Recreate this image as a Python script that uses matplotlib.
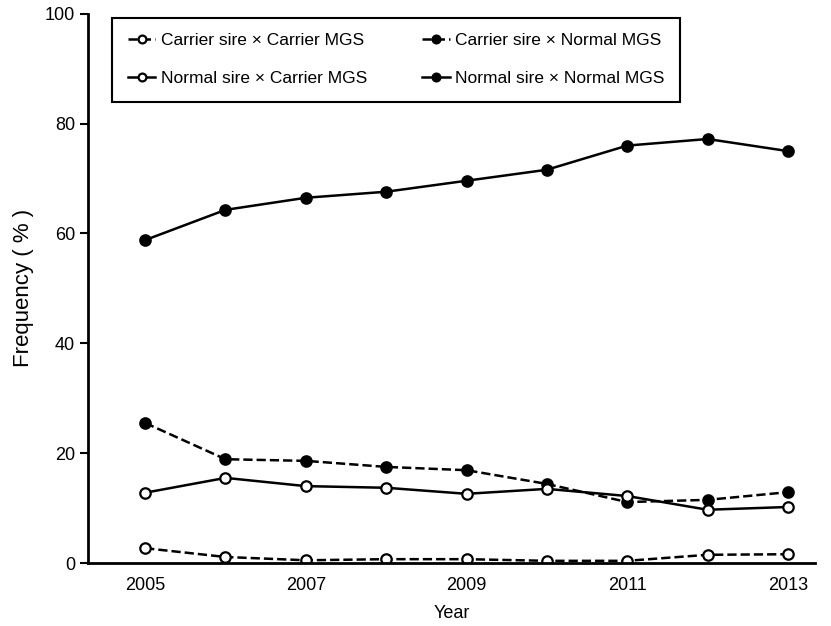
import matplotlib
matplotlib.use('Agg')
import matplotlib.pyplot as plt

plt.rcParams['font.family'] = ['Liberation Sans', 'DejaVu Sans']

years = [2005, 2006, 2007, 2008, 2009, 2010, 2011, 2012, 2013]
carrier_carrier = [2.7, 1.1, 0.5, 0.7, 0.7, 0.4, 0.4, 1.5, 1.6]
carrier_normal  = [25.5, 18.9, 18.6, 17.5, 16.9, 14.4, 11.1, 11.5, 12.9]
normal_carrier  = [12.8, 15.5, 14.0, 13.7, 12.6, 13.5, 12.2, 9.7, 10.2]
normal_normal   = [58.8, 64.3, 66.5, 67.6, 69.6, 71.6, 76.0, 77.2, 75.0]

fig = plt.figure(figsize=(8.31, 6.26), dpi=100)
ax = fig.add_axes([0.106, 0.1006, 0.875, 0.8774])

style = dict(color='black', lw=1.8, ms=7.5, mew=1.6)
cc, = ax.plot(years, carrier_carrier, '--o', mfc='white', label='Carrier sire \u00d7 Carrier MGS', **style)
cn, = ax.plot(years, carrier_normal, '--o', mfc='black', label='Carrier sire \u00d7 Normal MGS', **style)
nc, = ax.plot(years, normal_carrier, '-o', mfc='white', label='Normal sire \u00d7 Carrier MGS', **style)
nn, = ax.plot(years, normal_normal, '-o', mfc='black', label='Normal sire \u00d7 Normal MGS', **style)

ax.set_xlim(2004.29, 2013.34)
ax.set_ylim(0, 100)
ax.set_xticks([2005, 2007, 2009, 2011, 2013])
ax.set_yticks(range(0, 101, 20))
ax.tick_params(axis='x', length=0, labelsize=13, pad=10)
ax.tick_params(axis='y', length=6, width=1.5, direction='out', labelsize=13)
for s in ['top', 'right']:
    ax.spines[s].set_visible(False)
for s in ['left', 'bottom']:
    ax.spines[s].set_linewidth(2)

ax.set_xlabel('Year', fontsize=13, labelpad=8)
ax.set_ylabel('Frequency ( % )', fontsize=16, labelpad=8)

# row-wise order: matplotlib fills columns first
handles = [cc, nc, cn, nn]
leg = ax.legend(handles=handles, labels=[h.get_label() for h in handles],
                ncol=2, loc='upper left', bbox_to_anchor=(0.033, 0.993),
                borderaxespad=0, fontsize=12.5, handlelength=1.6, handletextpad=0.3,
                columnspacing=3.2, borderpad=0.9, labelspacing=1.3,
                fancybox=False, edgecolor='black', framealpha=1, markerscale=0.75)
leg.get_frame().set_linewidth(1.5)

fig.savefig('out.png', dpi=100)
